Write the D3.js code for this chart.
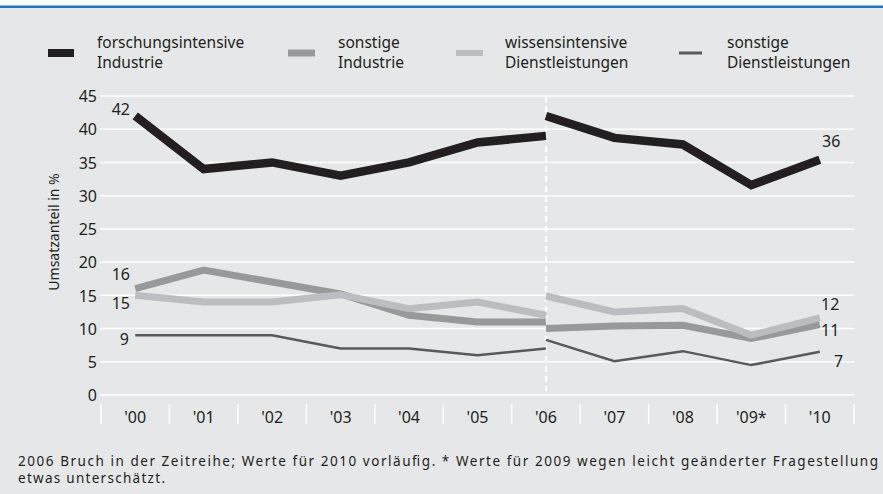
<!DOCTYPE html>
<html>
<head>
<meta charset="utf-8">
<script src="https://cdn.jsdelivr.net/npm/d3@7"></script>
<style>
  body { margin: 0; background: #fff; }
  svg text { font-family: "Noto Sans", "Open Sans", sans-serif; fill: #231f20; }
</style>
</head>
<body>
<div id="graph"></div>
<script>
"use strict";

let width = 883,
    height = 494;

// categories
const years = ["'00", "'01", "'02", "'03", "'04", "'05", "'06", "'07", "'08", "'09*", "'10"];
const yTicks = [0, 5, 10, 15, 20, 25, 30, 35, 40, 45];

// values before the 2006 break ('00..'06) and after it ('06..'10)
const forschOld   = [42, 34, 35, 33, 35, 38, 39];
const forschNew   = [42, 38.7, 37.7, 31.6, 35.4];
const sonstIndOld = [16, 18.8, 17, 15.2, 12, 11, 11];
const sonstIndNew = [10, 10.4, 10.5, 8.5, 10.6];
const wissDlOld   = [15, 14, 14, 15.1, 13, 14, 12];
const wissDlNew   = [14.9, 12.5, 13, 9, 11.6];
const sonstDlOld  = [9, 9, 9, 7, 7, 6, 7];
const sonstDlNew  = [8.3, 5.1, 6.6, 4.5, 6.5];

const legendNames = [
    ["forschungsintensive", "Industrie"],
    ["sonstige", "Industrie"],
    ["wissensintensive", "Dienstleistungen"],
    ["sonstige", "Dienstleistungen"]
];

const series = [
    { old: sonstDlOld,  neu: sonstDlNew,  color: "#58595b", w: 2.5 },
    { old: sonstIndOld, neu: sonstIndNew, color: "#98999b", w: 7 },
    { old: wissDlOld,   neu: wissDlNew,   color: "#bcbdc0", w: 7 },
    { old: forschOld,   neu: forschNew,   color: "#231f20", w: 8.5 }
];

let svg = d3.select("#graph")
    .append("svg")
    .attr("width", width)
    .attr("height", height);

// panel background + blue top rule
svg.append("rect")
    .attr("x", 0).attr("y", 7)
    .attr("width", width).attr("height", height - 7)
    .attr("fill", "#e6e7e8");
svg.append("rect")
    .attr("x", 0).attr("y", 5.5)
    .attr("width", width).attr("height", 2.5)
    .attr("fill", "#1f74bb");

let x = d3.scaleBand().domain(years).range([101, 854]);
let y = d3.scaleLinear().domain([0, 45]).range([395, 96]);

// gridlines
svg.append("g")
    .selectAll("line")
    .data(yTicks)
    .enter()
    .append("line")
    .attr("x1", 100).attr("x2", 854)
    .attr("y1", d => y(d)).attr("y2", d => y(d))
    .attr("stroke", "#fff")
    .attr("stroke-width", 1.5);

// y axis labels
let yAxis = svg.append("g")
    .attr("transform", "translate(97,0)")
    .call(d3.axisLeft(y).tickValues(yTicks).tickSize(0).tickPadding(0));
yAxis.select(".domain").remove();
yAxis.selectAll("text")
    .style("font-family", "'Noto Sans', sans-serif")
    .style("font-size", "16px")
    .attr("fill", "#231f20")
    .attr("dy", "0.36em");

svg.append("text")
    .attr("transform", "translate(59,232) rotate(-90)")
    .attr("text-anchor", "middle")
    .style("font-size", "14px")
    .text("Umsatzanteil in %");

// x axis: separators between bands and labels centred
let seps = years.map(d => x(d)).concat([x.range()[1]]);
svg.append("g")
    .selectAll("line")
    .data(seps)
    .enter()
    .append("line")
    .attr("x1", d => d).attr("x2", d => d)
    .attr("y1", 404).attr("y2", 424)
    .attr("stroke", "#fff")
    .attr("stroke-width", 1.5);

let xAxis = svg.append("g")
    .attr("transform", "translate(0,423)")
    .call(d3.axisBottom(x).tickSize(0).tickPadding(0));
xAxis.select(".domain").remove();
xAxis.selectAll("text")
    .style("font-family", "'Noto Sans', sans-serif")
    .style("font-size", "16px")
    .attr("fill", "#231f20")
    .attr("dy", "0");

// break in the time series
svg.append("line")
    .attr("x1", x("'06") + x.bandwidth() / 2)
    .attr("x2", x("'06") + x.bandwidth() / 2)
    .attr("y1", 96).attr("y2", 391)
    .attr("stroke", "#fff")
    .attr("stroke-width", 2)
    .attr("stroke-dasharray", "6,4");

let cx = d => x(d) + x.bandwidth() / 2;
let lineOld = d3.line().x((d, i) => cx(years[i])).y(d => y(d));
let lineNew = d3.line().x((d, i) => cx(years[i + 6])).y(d => y(d));

series.forEach(function(s) {
    svg.append("path")
        .attr("d", lineOld(s.old))
        .attr("fill", "none")
        .attr("stroke", s.color)
        .attr("stroke-width", s.w);
    svg.append("path")
        .attr("d", lineNew(s.neu))
        .attr("fill", "none")
        .attr("stroke", s.color)
        .attr("stroke-width", s.w);
});

// value labels
function label(txt, xPos, yPos, anchor) {
    svg.append("text")
        .attr("x", xPos).attr("y", yPos)
        .attr("text-anchor", anchor)
        .style("font-size", "16px")
        .text(txt);
}
label("42", 130, 115, "end");
label("16", 130, 280, "end");
label("15", 130, 309, "end");
label("9", 129, 345, "end");
label("36", 822, 147, "start");
label("12", 821, 310, "start");
label("11", 821, 336, "start");
label("7", 834, 367, "start");

// legend
const legendX = [48, 288, 456, 679];
const legendTx = [97, 338, 505, 727];
const legendSwatch = [[26, 8, "#231f20"], [27, 7, "#98999b"], [27, 6, "#bcbdc0"], [23, 3, "#58595b"]];
legendNames.forEach(function(names, i) {
    svg.append("rect")
        .attr("x", legendX[i])
        .attr("y", 53 - legendSwatch[i][1] / 2)
        .attr("width", legendSwatch[i][0])
        .attr("height", legendSwatch[i][1])
        .attr("fill", legendSwatch[i][2]);
    let t = svg.append("text")
        .attr("x", legendTx[i]).attr("y", 48)
        .style("font-size", "15.5px");
    t.append("tspan").attr("x", legendTx[i]).text(names[0]);
    t.append("tspan").attr("x", legendTx[i]).attr("dy", 20).text(names[1]);
});

// footnote
svg.append("text")
    .attr("x", 18).attr("y", 466)
    .attr("textLength", 860)
    .style("font-size", "13.5px")
    .text("2006 Bruch in der Zeitreihe; Werte für 2010 vorläufig. * Werte für 2009 wegen leicht geänderter Fragestellung");
svg.append("text")
    .attr("x", 18).attr("y", 482.5)
    .attr("textLength", 147)
    .style("font-size", "13.5px")
    .text("etwas unterschätzt.");
</script>
</body>
</html>
